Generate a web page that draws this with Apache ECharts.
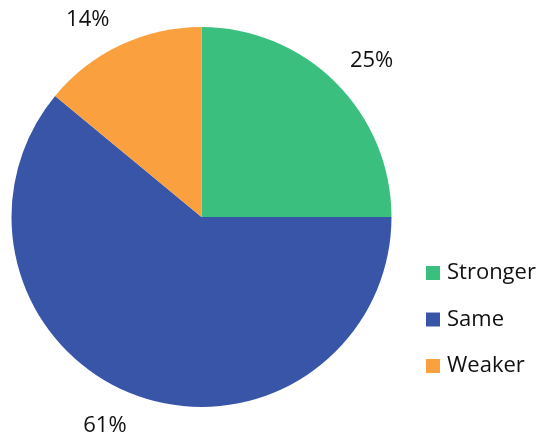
<!DOCTYPE html>
<html><head><meta charset="utf-8">
<script src="https://cdn.jsdelivr.net/npm/echarts@6/dist/echarts.min.js"></script>
<style>html,body{margin:0;padding:0;background:#fff}#c{width:540px;height:436px}</style>
</head><body><div id="c"></div>
<script>
const categories = ['Stronger', 'Same', 'Weaker'];
const values = [25, 61, 14];
const colors = ['#3BBF7E', '#3955A8', '#FBA03E'];

const chart = echarts.init(document.getElementById('c'));
const font = '"Open Sans", "Liberation Sans", sans-serif';
// label nudges (layout only) to mimic the original's label placement
const labelNudge = [[6, 8], [-18, -10], [-15, 13]];
const data = categories.map((n, i) => ({ name: n, value: values[i], itemStyle: { color: colors[i] } }));
chart.setOption({
  animation: false,
  legend: {
    orient: 'vertical', left: 421, top: 257,
    itemWidth: 14, itemHeight: 14, itemGap: 24.5,
    icon: 'rect',
    textStyle: { fontSize: 22, lineHeight: 22, color: '#111', fontFamily: font, padding: [0, 0, 0, 2] },
    data: categories
  },
  series: [
    {
      type: 'pie', center: [201.5, 217], radius: [0, 190],
      startAngle: 90, clockwise: true,
      label: { show: false }, labelLine: { show: false },
      itemStyle: { borderWidth: 0 },
      silent: true,
      data: data
    },
    {
      type: 'pie', center: [201.5, 217], radius: [210, 248],
      startAngle: 90, clockwise: true,
      itemStyle: { color: 'rgba(0,0,0,0)' },
      label: { show: true, position: 'inside', formatter: '{c}%', fontSize: 22, color: '#111', fontFamily: font },
      labelLine: { show: false },
      silent: true,
      legendHoverLink: false,
      data: categories.map((n, i) => ({ name: n + ' ', value: values[i], label: { offset: labelNudge[i] } }))
    }
  ]
});
</script></body></html>
